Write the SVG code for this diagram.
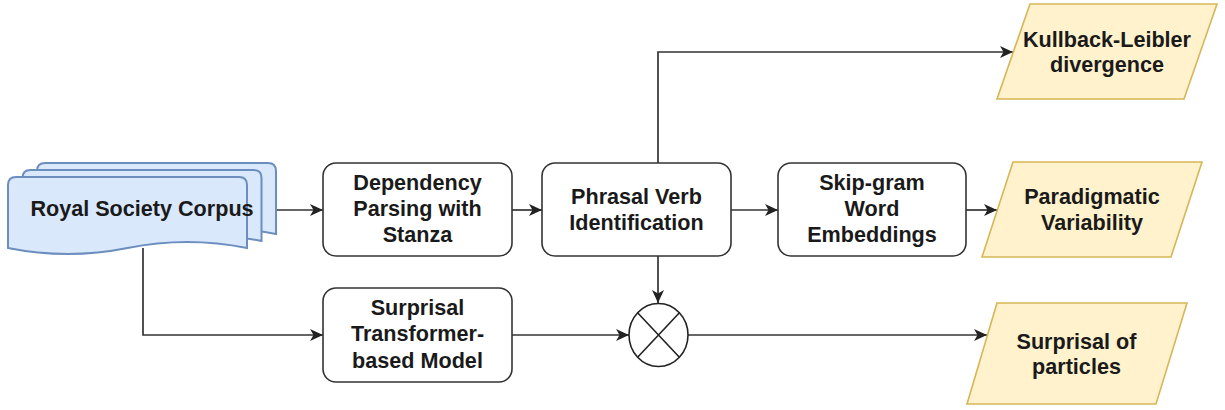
<svg xmlns="http://www.w3.org/2000/svg" width="1225" height="410" viewBox="0 0 1225 410">
<defs>
<style>
.box{fill:#ffffff;stroke:#333333;stroke-width:1.6}
.io{fill:#fff2cc;stroke:#d6b656;stroke-width:1.6}
.doc{fill:#dae8fc;stroke:#6c8ebf;stroke-width:2}
.op{fill:#ffffff;stroke:#222222;stroke-width:1.6}
.t{font-family:"Liberation Sans",Arial,Helvetica,sans-serif;font-weight:bold;font-size:21.6px;text-anchor:middle;fill:#1a1a1a}
.c{fill:none;stroke:#333333;stroke-width:1.7}
</style>
<marker id="arr" markerUnits="userSpaceOnUse" markerWidth="14" markerHeight="12" refX="13" refY="6" orient="auto" viewBox="0 0 14 12">
<path d="M0,0 L13,6 L0,12 L3.5,6 Z" fill="#222222"/>
</marker>
</defs>

<g id="connectors">
<path class="c" d="M277,210 L323,210" marker-end="url(#arr)"/>
<path class="c" d="M512,210 L542,210" marker-end="url(#arr)"/>
<path class="c" d="M731,210 L778,210" marker-end="url(#arr)"/>
<path class="c" d="M966,210 L997,210" marker-end="url(#arr)"/>
<path class="c" d="M658,163 L658,52 L1013,52" marker-end="url(#arr)"/>
<path class="c" d="M658,256 L658,303" marker-end="url(#arr)"/>
<path class="c" d="M143,248 L143,335 L323,335" marker-end="url(#arr)"/>
<path class="c" d="M512,335 L629,335" marker-end="url(#arr)"/>
<path class="c" d="M688,335 L987,335" marker-end="url(#arr)"/>
</g>

<g id="corpus">
<path class="doc" d="M37,171 Q37,163 45,163 L268,163 Q276,163 276,171 L276,234 Q216.25,222 156.5,234 Q96.75,246 37,234 Z"/>
<path class="doc" d="M22.5,178 Q22.5,170 30.5,170 L253.5,170 Q261.5,170 261.5,178 L261.5,241 Q201.75,229 142,241 Q82.25,253 22.5,241 Z"/>
<path class="doc" d="M8,185 Q8,177 16,177 L239,177 Q247,177 247,185 L247,248 Q187.25,236 127.5,248 Q67.75,260 8,248 Z"/>
<text class="t" x="142" y="216">Royal Society Corpus</text>
</g>

<g id="dependency">
<rect class="box" x="323" y="163" width="189" height="93" rx="13" ry="13"/>
<text class="t" x="417.5" y="189.5">Dependency</text>
<text class="t" x="417.5" y="215.5">Parsing with</text>
<text class="t" x="417.5" y="241.5">Stanza</text>
</g>

<g id="phrasal">
<rect class="box" x="542" y="163" width="189" height="93" rx="13" ry="13"/>
<text class="t" x="636.5" y="203.5">Phrasal Verb</text>
<text class="t" x="636.5" y="230">Identification</text>
</g>

<g id="skipgram">
<rect class="box" x="778" y="163" width="188" height="93" rx="13" ry="13"/>
<text class="t" x="872" y="189.5">Skip-gram</text>
<text class="t" x="872" y="215.5">Word</text>
<text class="t" x="872" y="241.5">Embeddings</text>
</g>

<g id="surprisal-model">
<rect class="box" x="323" y="288" width="189" height="94" rx="13" ry="13"/>
<text class="t" x="417.5" y="314.5">Surprisal</text>
<text class="t" x="417.5" y="341">Transformer-</text>
<text class="t" x="417.5" y="367.5">based Model</text>
</g>

<g id="combine">
<ellipse class="op" cx="658.5" cy="335" rx="29.5" ry="31.5"/>
<path class="op" d="M637.6,312.7 L679.4,357.3 M679.4,312.7 L637.6,357.3"/>
</g>

<g id="kl">
<polygon class="io" points="1030,4 1217,4 1184,99 997,99"/>
<text class="t" x="1107" y="47">Kullback-Leibler</text>
<text class="t" x="1107" y="72">divergence</text>
</g>

<g id="paradigmatic">
<polygon class="io" points="1013,162 1202,162 1171,257 982,257"/>
<text class="t" x="1092" y="203.5">Paradigmatic</text>
<text class="t" x="1092" y="230">Variability</text>
</g>

<g id="particles">
<polygon class="io" points="997,303 1187,303 1156,404 967,404"/>
<text class="t" x="1076.5" y="348.5">Surprisal of</text>
<text class="t" x="1076.5" y="374">particles</text>
</g>
</svg>
